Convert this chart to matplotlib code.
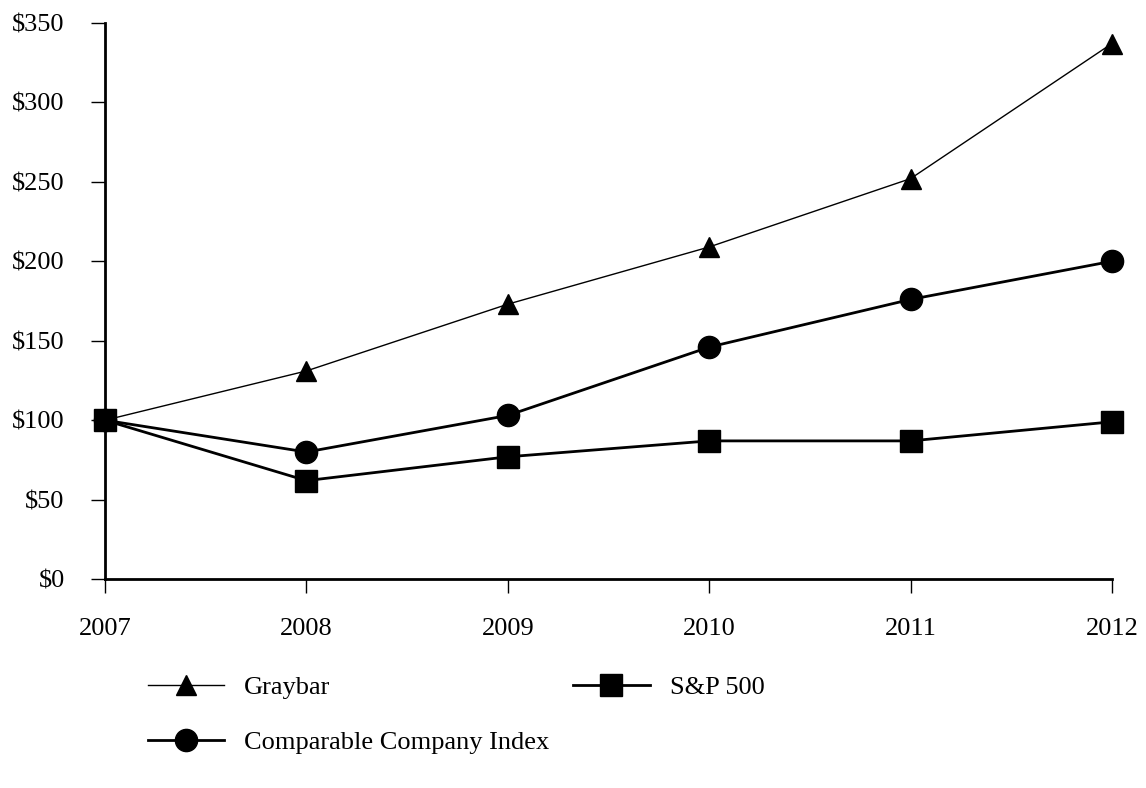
import matplotlib.pyplot as plt
from matplotlib.ticker import FuncFormatter

years = [2007, 2008, 2009, 2010, 2011, 2012]
graybar = [100, 131, 173, 209, 252, 337]
comparable = [100, 80, 103, 146, 176, 200]
sp500 = [100, 62, 77, 87, 87, 99]
yticks = [0, 50, 100, 150, 200, 250, 300, 350]

plt.rcParams['font.family'] = ['Liberation Serif', 'DejaVu Serif']

fig = plt.figure(figsize=(11.46, 7.88), dpi=100)
ax = fig.add_axes([0.0916, 0.265, 0.8787, 0.706])

ax.plot(years, graybar, color='black', lw=1.0, marker='^', ms=15,
        label='Graybar', clip_on=False)
ax.plot(years, comparable, color='black', lw=2.0, marker='o', ms=16,
        label='Comparable Company Index', clip_on=False)
ax.plot(years, sp500, color='black', lw=2.0, marker='s', ms=16,
        label='S&P 500', clip_on=False)

ax.set_xlim(2007, 2012)
ax.set_ylim(0, 350)
ax.set_xticks(years)
ax.set_yticks(yticks)
ax.yaxis.set_major_formatter(FuncFormatter(lambda v, p: f'${v:.0f}'))

for s in ['top', 'right']:
    ax.spines[s].set_visible(False)
for s in ['left', 'bottom']:
    ax.spines[s].set_linewidth(2.0)
ax.tick_params(axis='both', direction='out', length=10, width=1, labelsize=19)
ax.tick_params(axis='x', pad=18)
ax.tick_params(axis='y', pad=19)

leg = fig.legend(loc='upper left', bbox_to_anchor=(0.108, 0.173), ncol=2,
                 frameon=False, fontsize=19, handlelength=2.9,
                 columnspacing=0.9, labelspacing=1.2, handletextpad=0.76)

fig.savefig('out.png', dpi=100)
